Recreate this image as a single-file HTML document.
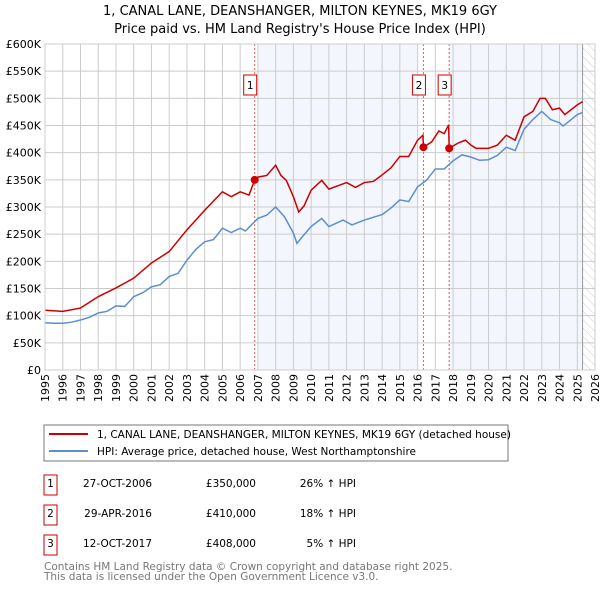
<!DOCTYPE html>
<html><head><meta charset="utf-8"><style>
body{margin:0;background:#fff;font-family:"Liberation Sans","DejaVu Sans",sans-serif;}
svg text{font-family:"DejaVu Sans","Liberation Sans",sans-serif;}
</style></head><body>
<svg id="c" width="600" height="590" viewBox="0 0 600 590">
<text x="300" y="15" text-anchor="middle" font-size="13">1, CANAL LANE, DEANSHANGER, MILTON KEYNES, MK19 6GY</text>
<text x="300" y="33" text-anchor="middle" font-size="13">Price paid vs. HM Land Registry's House Price Index (HPI)</text>
<defs><pattern id="h" width="6" height="6" patternUnits="userSpaceOnUse" patternTransform="rotate(-45)"><line x1="0" y1="0" x2="0" y2="6" stroke="#ccc" stroke-width="1"/></pattern></defs>
<g id="plot"></g>
<rect x="44" y="425" width="464" height="36" fill="#fff" stroke="#777"/>
<line x1="49" y1="434" x2="88" y2="434" stroke="#cc0000" stroke-width="2"/>
<text x="97" y="438" font-size="10.5">1, CANAL LANE, DEANSHANGER, MILTON KEYNES, MK19 6GY (detached house)</text>
<line x1="49" y1="451" x2="88" y2="451" stroke="#5b8fd0" stroke-width="2"/>
<text x="97" y="455" font-size="10.5">HPI: Average price, detached house, West Northamptonshire</text>
<g font-size="10.5">
<rect x="44" y="475" width="13" height="20" fill="#fff" stroke="#cc0000"/><text x="50.5" y="487" text-anchor="middle">1</text>
<text x="152" y="487" text-anchor="end">27-OCT-2006</text><text x="256" y="487" text-anchor="end">£350,000</text><text x="356" y="487" text-anchor="end">26% ↑ HPI</text>
<rect x="44" y="505" width="13" height="20" fill="#fff" stroke="#cc0000"/><text x="50.5" y="517" text-anchor="middle">2</text>
<text x="152" y="517" text-anchor="end">29-APR-2016</text><text x="256" y="517" text-anchor="end">£410,000</text><text x="356" y="517" text-anchor="end">18% ↑ HPI</text>
<rect x="44" y="535" width="13" height="20" fill="#fff" stroke="#cc0000"/><text x="50.5" y="547" text-anchor="middle">3</text>
<text x="152" y="547" text-anchor="end">12-OCT-2017</text><text x="256" y="547" text-anchor="end">£408,000</text><text x="356" y="547" text-anchor="end">5% ↑ HPI</text>
</g>
<text x="44" y="570" font-size="10.5" fill="#777">Contains HM Land Registry data © Crown copyright and database right 2025.</text>
<text x="44" y="580" font-size="10.5" fill="#777">This data is licensed under the Open Government Licence v3.0.</text>
</svg>
<script>
const hpiYears=[1995,1995.5,1996,1996.5,1997,1997.5,1998,1998.5,1999,1999.5,2000,2000.5,2001,2001.5,2002,2002.5,2003,2003.5,2004,2004.5,2005,2005.5,2006,2006.3,2007,2007.5,2008,2008.5,2009,2009.2,2009.5,2010,2010.6,2011,2011.8,2012.3,2013,2014,2014.5,2015,2015.5,2016,2016.5,2017,2017.5,2018,2018.5,2019,2019.5,2020,2020.5,2021,2021.5,2022,2022.5,2023,2023.5,2024,2024.2,2025,2025.3];
const hpiValues=[87,86,86,88,92,97,105,108,118,117,135,142,153,157,172,178,202,222,236,240,261,253,261,256,279,285,300,282,252,233,245,264,279,264,276,267,276,286,298,313,310,337,349,370,370,385,396,392,386,387,395,410,404,443,461,476,461,455,449,470,474];
const propYears=[1995,1996,1997,1998,1999,2000,2001,2002,2003,2004,2005,2005.5,2006,2006.5,2006.82,2007,2007.5,2008,2008.3,2008.6,2009,2009.3,2009.6,2010,2010.6,2011,2012,2012.5,2013,2013.5,2014,2014.5,2015,2015.5,2016,2016.3,2016.33,2016.8,2017.2,2017.5,2017.75,2017.78,2018.3,2018.7,2019,2019.3,2020,2020.5,2021,2021.5,2022,2022.5,2022.9,2023.2,2023.6,2024,2024.3,2025,2025.3];
const propValues=[110,108,114,135,151,169,197,218,258,294,328,319,328,322,350,355,358,377,358,349,319,291,302,331,349,333,345,336,345,347,359,372,393,393,423,432,410,420,440,435,451,408,418,423,414,408,408,414,432,423,466,476,500,500,479,482,470,488,494];
const saleYears=[2006.82,2016.33,2017.78];
const saleValues=[350,410,408];
const saleLabels=["1","2","3"];
const yTicks=[0,50,100,150,200,250,300,350,400,450,500,550,600];
const yTickLabels=["£0","£50K","£100K","£150K","£200K","£250K","£300K","£350K","£400K","£450K","£500K","£550K","£600K"];
const xTicks=[1995,1996,1997,1998,1999,2000,2001,2002,2003,2004,2005,2006,2007,2008,2009,2010,2011,2012,2013,2014,2015,2016,2017,2018,2019,2020,2021,2022,2023,2024,2025,2026];

const L=45,R=595,T=44,B=370;
const sx=y=>L+(y-1995)/(2026-1995)*(R-L);
const sy=v=>B-v/600*(B-T);
const NS='http://www.w3.org/2000/svg';
const g=document.getElementById('plot');
function mk(t,a,p){const e=document.createElementNS(NS,t);for(const k in a)e.setAttribute(k,a[k]);(p||g).appendChild(e);return e;}
mk('rect',{x:L,y:T,width:R-L,height:B-T,fill:'#fff'});
let s1=mk('rect',{x:sx(2007),y:T,width:sx(2016.05)-sx(2007),height:B-T,fill:'#f3f6fd'});

let s2=mk('rect',{x:sx(2017.8),y:T,width:sx(2025.3)-sx(2017.8),height:B-T,fill:'#f3f6fd'});

let hz=mk('rect',{x:sx(2025.3),y:T,width:R-sx(2025.3),height:B-T,fill:'url(#h)'});

yTicks.forEach((v,i)=>{
 mk('line',{x1:L,x2:R,y1:sy(v),y2:sy(v),stroke:'#ccc','stroke-width':1});
 const t=mk('text',{x:L-4,y:sy(v)+4,'text-anchor':'end','font-size':11});t.textContent=yTickLabels[i];
 
});
xTicks.forEach(y=>{
 mk('line',{x1:sx(y),x2:sx(y),y1:T,y2:B,stroke:'#ccc','stroke-width':1});
 const x=sx(y)+4,yy=B+4;
 const t=mk('text',{x:x,y:yy,'text-anchor':'end','font-size':11,transform:'rotate(-90 '+x+' '+yy+')'});t.textContent=y;
 
});
mk('line',{x1:sx(2025.3),x2:sx(2025.3),y1:T,y2:B,stroke:'#999','stroke-width':1});
saleYears.forEach((y,i)=>{
 const l=mk('line',{x1:sx(y),x2:sx(y),y1:T,y2:B,stroke:'#e06060','stroke-width':1,'stroke-dasharray':'2,2'});
 
});
const hp=mk('polyline',{points:hpiYears.map((y,i)=>sx(y)+','+sy(hpiValues[i])).join(' '),fill:'none',stroke:'#5b8fd0','stroke-width':1.5});

const pp=mk('polyline',{points:propYears.map((y,i)=>sx(y)+','+sy(propValues[i])).join(' '),fill:'none',stroke:'#cc0000','stroke-width':1.5});

saleYears.forEach((y,i)=>{
 const c=mk('circle',{cx:sx(y),cy:sy(saleValues[i]),r:4,fill:'#cc0000'});
 
 const bx=sx(y)-11;
 const r=mk('rect',{x:bx,y:75,width:13,height:20,fill:'#fff',stroke:'#cc0000'});
 
 const t=mk('text',{x:bx+6.5,y:89,'text-anchor':'middle','font-size':10.5});t.textContent=saleLabels[i];
 
});
mk('rect',{x:L,y:T,width:R-L,height:B-T,fill:'none',stroke:'#ccc'});
</script>
</body></html>
